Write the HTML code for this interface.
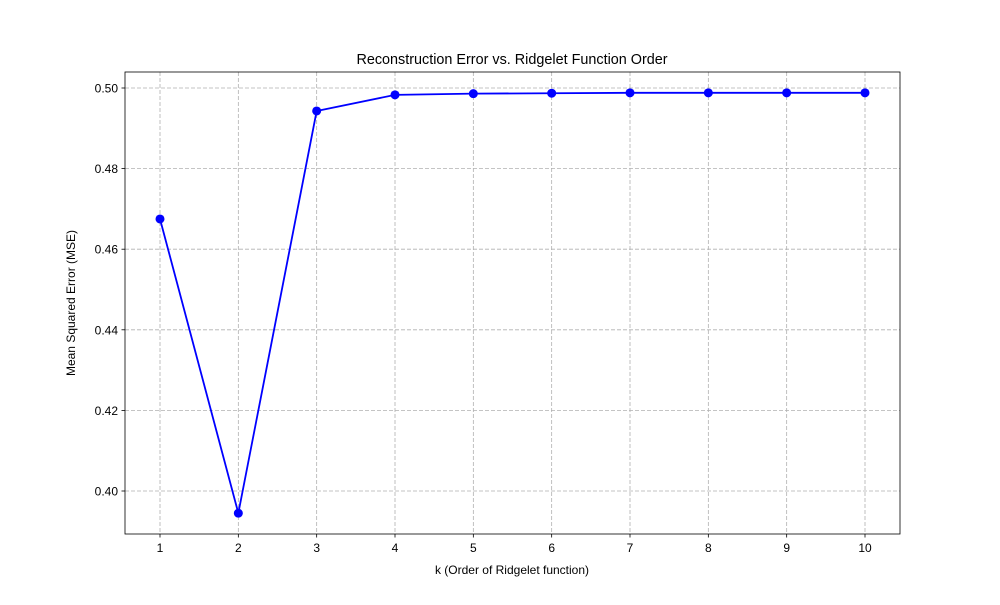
<!DOCTYPE html>
<html><head><meta charset="utf-8"><style>
body{margin:0;background:#fff;font-family:"Liberation Sans",sans-serif}
</style></head><body>
<svg id="chart" width="1000" height="600" xmlns="http://www.w3.org/2000/svg">
<rect width="1000" height="600" fill="#fff"/>
<g id="grid"></g>
<g id="axes"></g>
<g id="series"></g>
<text x="512" y="64" text-anchor="middle" font-size="14.4">Reconstruction Error vs. Ridgelet Function Order</text>
<text x="512" y="574" text-anchor="middle" font-size="12">k (Order of Ridgelet function)</text>
<text transform="translate(75,303) rotate(-90)" text-anchor="middle" font-size="12">Mean Squared Error (MSE)</text>
</svg>
<script>
const kValues=[1,2,3,4,5,6,7,8,9,10];
const mseValues=[0.4675,0.3945,0.4943,0.4983,0.4986,0.4987,0.4988,0.4988,0.4988,0.4988];
const yTicks=[0.40,0.42,0.44,0.46,0.48,0.50];
const xTicks=[1,2,3,4,5,6,7,8,9,10];
const L=125,R=900,T=72,B=534;
const x=v=>160+(v-1)*(865-160)/9;
const y=v=>88+(0.50-v)*4030;
const NS="http://www.w3.org/2000/svg";
function mk(p,t,a){const e=document.createElementNS(NS,t);for(const k in a)e.setAttribute(k,a[k]);p.appendChild(e);return e;}
const g=document.getElementById('grid'),ax=document.getElementById('axes'),s=document.getElementById('series');
xTicks.forEach(v=>{
 const l=mk(g,'line',{x1:x(v),x2:x(v),y1:T,y2:B,stroke:'#b0b0b0','stroke-dasharray':'4,2','stroke-width':0.8});
 
 
 const t=mk(ax,'line',{x1:x(v),x2:x(v),y1:B,y2:B+3.5,stroke:'#000','stroke-width':0.8});
 
 
 const tx=mk(ax,'text',{x:x(v),y:B+18,'text-anchor':'middle','font-size':12});tx.textContent=v;
 
 
});
yTicks.forEach(v=>{
 const l=mk(g,'line',{x1:L,x2:R,y1:y(v),y2:y(v),stroke:'#b0b0b0','stroke-dasharray':'4,2','stroke-width':0.8});
 
 
 const t=mk(ax,'line',{x1:L-3.5,x2:L,y1:y(v),y2:y(v),stroke:'#000','stroke-width':0.8});
 
 
 const tx=mk(ax,'text',{x:L-7,y:y(v)+4.5,'text-anchor':'end','font-size':12});tx.textContent=v.toFixed(2);
 
 
});
const fr=mk(ax,'rect',{x:L,y:T,width:R-L,height:B-T,fill:'none',stroke:'#000','stroke-width':0.8});


const pl=mk(s,'polyline',{points:kValues.map((k,i)=>x(k)+','+y(mseValues[i])).join(' '),fill:'none',stroke:'#0000ff','stroke-width':1.8});


kValues.forEach((k,i)=>{
 const c=mk(s,'circle',{cx:x(k),cy:y(mseValues[i]),r:4.5,fill:'#0000ff'});
 
 
});
</script>
</body></html>
